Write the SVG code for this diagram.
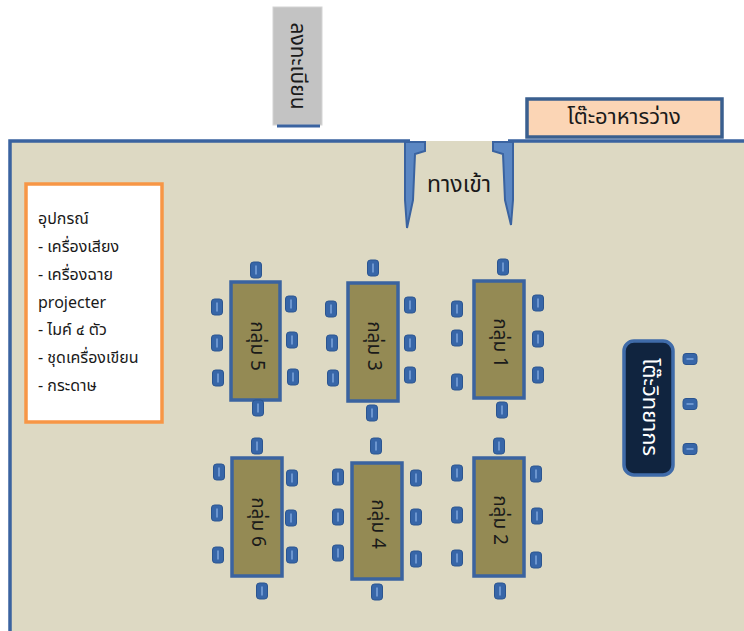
<svg xmlns="http://www.w3.org/2000/svg" width="744" height="631" viewBox="0 0 744 631">
<style>
.t{font-family:"Noto Sans Thai","Noto Sans","DejaVu Sans",sans-serif;fill:#1a1a1a}
.tbl{fill:#948A54;stroke:#3A63A0;stroke-width:3.5}
.lbl{font-size:19px;text-anchor:middle;dominant-baseline:central}
.eq{font-size:16px}
</style>
<defs>
<g id="chairV">
<rect x="-5.5" y="-8" width="11" height="16" rx="3" fill="#3766A8" stroke="#2B5590" stroke-width="1"/>
<line x1="0" y1="-4.5" x2="0" y2="4.5" stroke="#7EA6DC" stroke-width="1.5"/>
</g>
<g id="chairH">
<rect x="-7" y="-5.5" width="14" height="11" rx="3" fill="#3766A8" stroke="#2B5590" stroke-width="1"/>
<line x1="-3.5" y1="0" x2="3.5" y2="0" stroke="#7EA6DC" stroke-width="1.5"/>
</g>
</defs>
<rect width="744" height="631" fill="#ffffff"/>

<g id="room">
<rect x="10" y="141" width="740" height="500" fill="#DDD9C3"/>
<path d="M10,641 V141 H410 M508,141 H750" fill="none" stroke="#3A63A0" stroke-width="3.5"/>
</g>

<g id="registration">
<rect x="273" y="7" width="49" height="118" fill="#C3C3C3" stroke="#D4D4D4" stroke-width="1"/>
<line x1="277" y1="126" x2="320" y2="126" stroke="#3A63A0" stroke-width="3"/>
<text class="t lbl" transform="translate(297,66) rotate(90)" style="font-size:21px">ลงทะเบียน</text>
</g>

<g id="snack-table">
<rect x="527" y="99" width="195" height="38" fill="#FBD5B5" stroke="#3A5F8F" stroke-width="3.5"/>
<text class="t lbl" x="624" y="117" style="font-size:22px">โต๊ะอาหารว่าง</text>
</g>

<g id="entrance">
<path d="M405,142 H425 V151 L415,154 L413,200 L407,228 L405,200 Z" fill="#5B87C3" stroke="#3A63A0" stroke-width="2"/>
<path d="M513,142 H493 V151 L503,154 L505,200 L511,225 L513,200 Z" fill="#5B87C3" stroke="#3A63A0" stroke-width="2"/>
<text class="t lbl" x="459" y="185" style="font-size:23px">ทางเข้า</text>
</g>

<g id="equipment">
<rect x="26" y="184" width="136" height="238" fill="#ffffff" stroke="#F79646" stroke-width="3.5"/>
<text class="t eq" x="38" y="224">อุปกรณ์</text>
<text class="t eq" x="38" y="252">- เครื่องเสียง</text>
<text class="t eq" x="38" y="280">- เครื่องฉาย</text>
<text class="t eq" x="38" y="308">projecter</text>
<text class="t eq" x="38" y="335">- ไมค์ ๔ ตัว</text>
<text class="t eq" x="38" y="363">- ชุดเครื่องเขียน</text>
<text class="t eq" x="38" y="391">- กระดาษ</text>
</g>

<g id="group5">
<rect class="tbl" x="231" y="282" width="49" height="118"/>
<text class="t lbl" transform="translate(256,346) rotate(90)">กลุ่ม 5</text>
<use href="#chairV" x="256" y="270"/><use href="#chairV" x="258" y="408"/>
<use href="#chairV" x="217" y="307"/><use href="#chairV" x="217" y="343"/><use href="#chairV" x="218" y="378"/>
<use href="#chairV" x="291" y="304"/><use href="#chairV" x="292" y="340"/><use href="#chairV" x="293" y="377"/>
</g>

<g id="group3">
<rect class="tbl" x="348" y="283" width="50" height="118"/>
<text class="t lbl" transform="translate(373,346) rotate(90)">กลุ่ม 3</text>
<use href="#chairV" x="373" y="268"/><use href="#chairV" x="372" y="413"/>
<use href="#chairV" x="331" y="309"/><use href="#chairV" x="332" y="343"/><use href="#chairV" x="333" y="378"/>
<use href="#chairV" x="410" y="305"/><use href="#chairV" x="410" y="343"/><use href="#chairV" x="410" y="375"/>
</g>

<g id="group1">
<rect class="tbl" x="474" y="281" width="50" height="117"/>
<text class="t lbl" transform="translate(499,343) rotate(90)">กลุ่ม 1</text>
<use href="#chairV" x="503" y="267"/><use href="#chairV" x="502" y="410"/>
<use href="#chairV" x="457" y="309"/><use href="#chairV" x="457" y="338"/><use href="#chairV" x="457" y="382"/>
<use href="#chairV" x="538" y="303"/><use href="#chairV" x="538" y="339"/><use href="#chairV" x="538" y="375"/>
</g>

<g id="group6">
<rect class="tbl" x="232" y="458" width="50" height="118"/>
<text class="t lbl" transform="translate(257,522) rotate(90)">กลุ่ม 6</text>
<use href="#chairV" x="257" y="446"/><use href="#chairV" x="262" y="591"/>
<use href="#chairV" x="219" y="472"/><use href="#chairV" x="217" y="513"/><use href="#chairV" x="218" y="555"/>
<use href="#chairV" x="292" y="478"/><use href="#chairV" x="291" y="518"/><use href="#chairV" x="292" y="555"/>
</g>

<g id="group4">
<rect class="tbl" x="352" y="463" width="50" height="116"/>
<text class="t lbl" transform="translate(377,524) rotate(90)">กลุ่ม 4</text>
<use href="#chairV" x="376" y="446"/><use href="#chairV" x="377" y="592"/>
<use href="#chairV" x="338" y="477"/><use href="#chairV" x="338" y="517"/><use href="#chairV" x="338" y="553"/>
<use href="#chairV" x="416" y="478"/><use href="#chairV" x="416" y="517"/><use href="#chairV" x="416" y="559"/>
</g>

<g id="group2">
<rect class="tbl" x="474" y="458" width="50" height="118"/>
<text class="t lbl" transform="translate(499,520) rotate(90)">กลุ่ม 2</text>
<use href="#chairV" x="499" y="446"/><use href="#chairV" x="500" y="591"/>
<use href="#chairV" x="457" y="473"/><use href="#chairV" x="457" y="515"/><use href="#chairV" x="457" y="558"/>
<use href="#chairV" x="536" y="474"/><use href="#chairV" x="537" y="516"/><use href="#chairV" x="536" y="560"/>
</g>

<g id="speaker-table">
<rect x="624" y="341" width="49" height="134" rx="10" fill="#10243F" stroke="#3F6BA9" stroke-width="3.5"/>
<text class="lbl" transform="translate(649,407) rotate(90)" style="font-family:'Noto Sans Thai','Noto Sans','DejaVu Sans',sans-serif;fill:#ffffff;font-size:22px">โต๊ะวิทยากร</text>
<use href="#chairH" x="690" y="359"/><use href="#chairH" x="690" y="404"/><use href="#chairH" x="690" y="449"/>
</g>
</svg>
